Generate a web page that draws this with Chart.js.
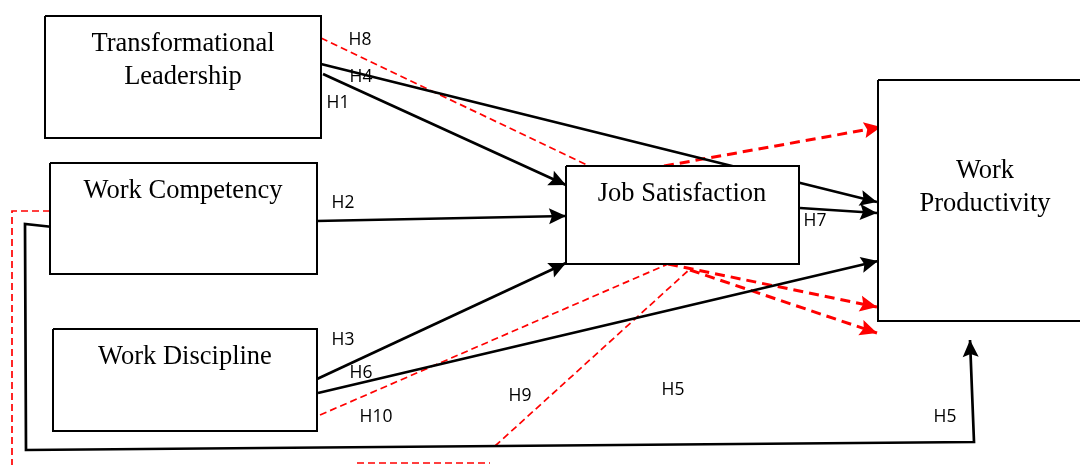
<!DOCTYPE html>
<html>
<head>
<meta charset="utf-8">
<script src="https://cdn.jsdelivr.net/npm/chart.js@4.4.1/dist/chart.umd.min.js"></script>
<style>
  html, body { margin: 0; padding: 0; background: #fff; }
  #diagram { display: block; }
</style>
</head>
<body>
<canvas id="diagram" width="1080" height="465"></canvas>
<script>
// boxes (data units: x 0..1080, y 0..465 top-down)
const nodeNames = [["Transformational", "Leadership"], ["Work Competency"], ["Work Discipline"], ["Job Satisfaction"], ["Work", "Productivity"]];
const nodeLeft = [45, 50, 53, 566, 878];
const nodeTop = [16, 163, 329, 166, 80];
const nodeRight = [321, 317, 317, 799, 1095];
const nodeBottom = [138, 274, 431, 264, 321];
const nodeTextX = [183, 183, 185, 682, 985];
const nodeTextY = [44, 191, 357, 194, 171];

// hypothesis labels
const hypNames = ["H1", "H2", "H3", "H4", "H5", "H5", "H6", "H7", "H8", "H9", "H10"];
const hypX = [338, 343, 343, 361, 673, 945, 361, 815, 360, 520, 376];
const hypY = [103, 203, 340, 77, 390, 417, 373, 221, 40, 396, 417];

// direct paths (black)
const pathH1 = [[323, 74], [566, 185]];
const pathH2 = [[316, 221], [566, 216]];
const pathH3 = [[317, 379], [566, 263]];
const pathH4 = [[321, 64], [877, 202]];
const pathH5 = [[53, 227], [25, 224], [26, 450], [974, 442], [970, 340]];
const pathH6 = [[318, 393], [878, 261]];
const pathH7 = [[800, 208], [877, 213]];

// mediated paths (red dashed)
const pathH8 = [[321, 38], [589, 166]];
const pathH9 = [[495, 446], [690, 269]];
const pathH10 = [[320, 415], [668, 264]];
const pathH9Foot = [[357, 463], [490, 463]];
const pathLeft = [[50, 211], [12, 211], [12, 465]];
const medTop = [[664, 166], [881, 127]];
const medBottom1 = [[668, 264], [877, 307]];
const medBottom2 = [[690, 270], [877, 333]];

const toPts = arr => arr.map(p => ({ x: p[0], y: p[1] }));

function solid(path, arrow) {
    return {
        data: toPts(path), showLine: true, borderColor: "#000", borderWidth: 2.7,
        pointRadius: 0, fill: false, order: 2, arrowHead: arrow, arrowColor: "#000"
    };
}
function dashedThin(path) {
    return {
        data: toPts(path), showLine: true, borderColor: "#ff0000", borderWidth: 1.7,
        borderDash: [7, 4], pointRadius: 0, fill: false, order: 2
    };
}
function dashedThick(path) {
    return {
        data: toPts(path), showLine: true, borderColor: "#ff0000", borderWidth: 3,
        borderDash: [10, 6], pointRadius: 0, fill: false, order: 2, arrowHead: true, arrowColor: "#ff0000"
    };
}

const boxSets = nodeNames.map((n, i) => ({
    data: toPts([[nodeLeft[i], nodeTop[i]], [nodeRight[i], nodeTop[i]], [nodeRight[i], nodeBottom[i]],
                 [nodeLeft[i], nodeBottom[i]], [nodeLeft[i], nodeTop[i]]]),
    showLine: true, borderColor: "#000", borderWidth: 2, backgroundColor: "#fff",
    fill: "shape", pointRadius: 0, order: 0, tension: 0
}));

// arrow head at the last point of a path
const arrowPlugin = {
    id: "arrowHeads",
    afterDatasetDraw(chart, args) {
        const ds = chart.data.datasets[args.index];
        if (!ds.arrowHead) return;
        const pts = args.meta.data;
        const a = pts[pts.length - 2], b = pts[pts.length - 1];
        const ang = Math.atan2(b.y - a.y, b.x - a.x);
        const len = 17, half = 8, notch = 3;
        const ctx = chart.ctx;
        ctx.save();
        ctx.translate(b.x, b.y);
        ctx.rotate(ang);
        ctx.fillStyle = ds.arrowColor;
        ctx.beginPath();
        ctx.moveTo(0, 0);
        ctx.lineTo(-len, -half);
        ctx.lineTo(-len + notch, 0);
        ctx.lineTo(-len, half);
        ctx.closePath();
        ctx.fill();
        ctx.restore();
    }
};

const textPlugin = {
    id: "diagramText",
    afterDraw(chart) {
        const ctx = chart.ctx;
        const xs = chart.scales.x, ys = chart.scales.y;
        ctx.save();
        ctx.fillStyle = "#000";
        ctx.textAlign = "center";
        ctx.textBaseline = "middle";
        ctx.font = "26.5px 'Liberation Serif', 'Times New Roman', serif";
        nodeNames.forEach((lines, i) => {
            lines.forEach((t, j) => {
                ctx.fillText(t, xs.getPixelForValue(nodeTextX[i]), ys.getPixelForValue(nodeTextY[i] + j * 33));
            });
        });
        ctx.font = "17.5px 'Open Sans', sans-serif";
        hypNames.forEach((t, i) => {
            ctx.fillText(t, xs.getPixelForValue(hypX[i]), ys.getPixelForValue(hypY[i]));
        });
        ctx.restore();
    }
};

new Chart(document.getElementById("diagram"), {
    type: "scatter",
    data: {
        datasets: [
            ...boxSets,
            solid(pathH1, true), solid(pathH2, true), solid(pathH3, true), solid(pathH4, true),
            solid(pathH5, true), solid(pathH6, true), solid(pathH7, true),
            dashedThin(pathH8), dashedThin(pathH9), dashedThin(pathH10),
            dashedThin(pathH9Foot), dashedThin(pathLeft),
            dashedThick(medTop), dashedThick(medBottom1), dashedThick(medBottom2)
        ]
    },
    options: {
        responsive: false,
        animation: false,
        layout: { padding: 0 },
        scales: {
            x: { type: "linear", min: 0, max: 1080, display: false },
            y: { type: "linear", min: 0, max: 465, reverse: true, display: false }
        },
        plugins: {
            legend: { display: false },
            tooltip: { enabled: false }
        }
    },
    plugins: [arrowPlugin, textPlugin]
});
</script>
</body>
</html>
